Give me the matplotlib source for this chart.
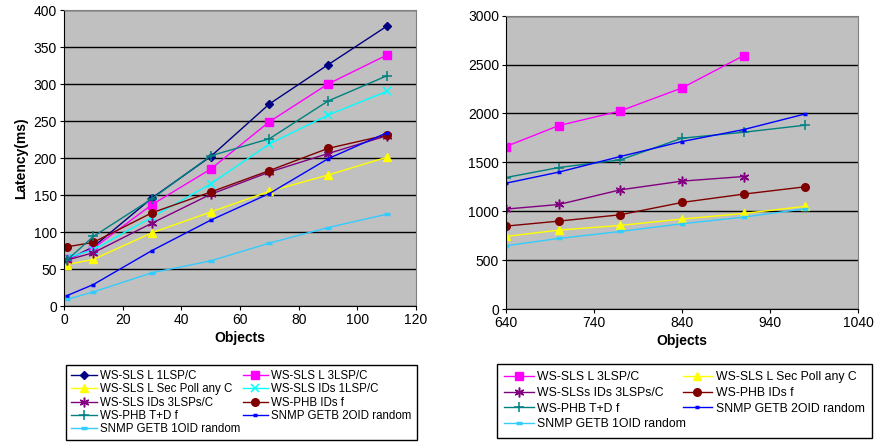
import numpy as np
import matplotlib.pyplot as plt

# left chart: small object counts
x_left = [1, 10, 30, 50, 70, 90, 110]
sls_1lsp = [62, 80, 146, 202, 273, 326, 378]
sls_3lsp = [63, 78, 137, 185, 249, 300, 339]
sls_secpoll = [56, 63, 99, 127, 155, 177, 201]
ids_1lsp = [65, 76, 120, 165, 219, 258, 290]
ids_3lsp = [62, 72, 112, 151, 181, 206, 230]
phb_ids = [80, 86, 126, 154, 183, 213, 231]
phb_td = [62, 94, 145, 203, 226, 277, 311]
snmp_2oid = [14, 29, 75, 116, 152, 199, 234]
snmp_1oid = [9, 19, 45, 61, 85, 106, 124]

# right chart: large object counts
x_right = [640, 700, 770, 840, 910, 980]
r_sls_3lsp = [1662, 1876, 2026, 2261, 2591]
r_sls_secpoll = [742, 807, 855, 920, 977, 1050]
r_ids_3lsp = [1022, 1069, 1219, 1308, 1355]
r_phb_ids = [848, 899, 964, 1090, 1175, 1250]
r_phb_td = [1345, 1447, 1526, 1747, 1808, 1880]
r_snmp_2oid = [1287, 1400, 1560, 1713, 1835, 1995]
r_snmp_1oid = [647, 722, 793, 872, 940, 1025]

star = (6, 2, 0)
styles = {
    'WS-SLS L 1LSP/C': dict(color='#000080', marker='D', ms=4.5),
    'WS-SLS L 3LSP/C': dict(color='#FF00FF', marker='s', ms=5.5),
    'WS-SLS L Sec Poll any C': dict(color='#FFFF00', marker='^', ms=6),
    'WS-SLS IDs 1LSP/C': dict(color='#00FFFF', marker='x', ms=6, mew=1.1),
    'WS-SLS IDs 3LSPs/C': dict(color='#800080', marker=star, ms=7, mew=1.1),
    'WS-PHB IDs f': dict(color='#800000', marker='o', ms=5.5),
    'WS-PHB T+D f': dict(color='#008080', marker='+', ms=7, mew=1.1),
    'SNMP GETB 2OID random': dict(color='#0000FF', marker='_', ms=3.5, mew=2.5),
    'SNMP GETB 1OID random': dict(color='#33CCFF', marker='_', ms=4.5, mew=2.5),
}

plt.rcParams['font.family'] = 'Liberation Sans'
fig = plt.figure(figsize=(8.78, 4.47), dpi=100)
ax1 = fig.add_axes([0.0729, 0.3154, 0.4009, 0.6622])
ax2 = fig.add_axes([0.5763, 0.3087, 0.4009, 0.6562])


def style_axes(ax):
    ax.set_facecolor('#C0C0C0')
    ax.grid(True, axis='y', color='black', linewidth=1)
    ax.set_axisbelow(True)
    for s in ['top', 'right']:
        ax.spines[s].set_color('#808080')
    ax.tick_params(labelsize=10, length=3, direction='out', pad=2)
    ax.set_xlabel('Objects', fontsize=10, fontweight='bold', labelpad=3)


left_series = [
    ('WS-SLS L 1LSP/C', sls_1lsp),
    ('WS-SLS L 3LSP/C', sls_3lsp),
    ('WS-SLS L Sec Poll any C', sls_secpoll),
    ('WS-SLS IDs 1LSP/C', ids_1lsp),
    ('WS-SLS IDs 3LSPs/C', ids_3lsp),
    ('WS-PHB IDs f', phb_ids),
    ('WS-PHB T+D f', phb_td),
    ('SNMP GETB 2OID random', snmp_2oid),
    ('SNMP GETB 1OID random', snmp_1oid),
]
h1 = []
for name, ys in left_series:
    (ln,) = ax1.plot(x_left[:len(ys)], ys, lw=1, label=name, **styles[name])
    h1.append(ln)
style_axes(ax1)
ax1.set_xlim(0, 120)
ax1.set_ylim(0, 400)
ax1.set_xticks(np.arange(0, 121, 20))
ax1.set_yticks(np.arange(0, 401, 50))
ax1.set_ylabel('Latency(ms)', fontsize=10, fontweight='bold', labelpad=4)

right_series = [
    ('WS-SLS L 3LSP/C', r_sls_3lsp),
    ('WS-SLS L Sec Poll any C', r_sls_secpoll),
    ('WS-SLS IDs 3LSPs/C', r_ids_3lsp),
    ('WS-PHB IDs f', r_phb_ids),
    ('WS-PHB T+D f', r_phb_td),
    ('SNMP GETB 2OID random', r_snmp_2oid),
    ('SNMP GETB 1OID random', r_snmp_1oid),
]
h2 = []
for name, ys in right_series:
    (ln,) = ax2.plot(x_right[:len(ys)], ys, lw=1, label=name, **styles[name])
    h2.append(ln)
style_axes(ax2)
ax2.set_xlim(640, 1040)
ax2.set_ylim(0, 3000)
ax2.set_xticks(np.arange(640, 1041, 100))
ax2.set_yticks(np.arange(0, 3001, 500))

# legends: reorder so that entries fill row by row
order1 = [0, 2, 4, 6, 8, 1, 3, 5, 7]
fig.legend([h1[i] for i in order1], [left_series[i][0] for i in order1],
           loc='upper left', bbox_to_anchor=(0.0752, 0.0112, 0.3998, 0.172),
           mode='expand', ncol=2, fontsize=8.3, fancybox=False, edgecolor='black',
           framealpha=1, handlelength=2.2, labelspacing=0.1, borderpad=0.45,
           columnspacing=0.6, handletextpad=0.3, borderaxespad=0)
order2 = [0, 2, 4, 6, 1, 3, 5]
labels2 = ['WS-SLS L 3LSP/C', 'WS-SLS L Sec Poll any C', 'WS-SLSs IDs 3LSPs/C',
           'WS-PHB IDs f', 'WS-PHB T+D f', 'SNMP GETB 2OID random',
           'SNMP GETB 1OID random']
fig.legend([h2[i] for i in order2], [labels2[i] for i in order2],
           loc='upper left', bbox_to_anchor=(0.566, 0.0022, 0.427, 0.1834),
           mode='expand', ncol=2, fontsize=8.8, fancybox=False, edgecolor='black',
           framealpha=1, handlelength=2.4, labelspacing=0.3, borderpad=0.6,
           columnspacing=0.8, handletextpad=0.3, borderaxespad=0)

fig.savefig('out.png', dpi=100)
